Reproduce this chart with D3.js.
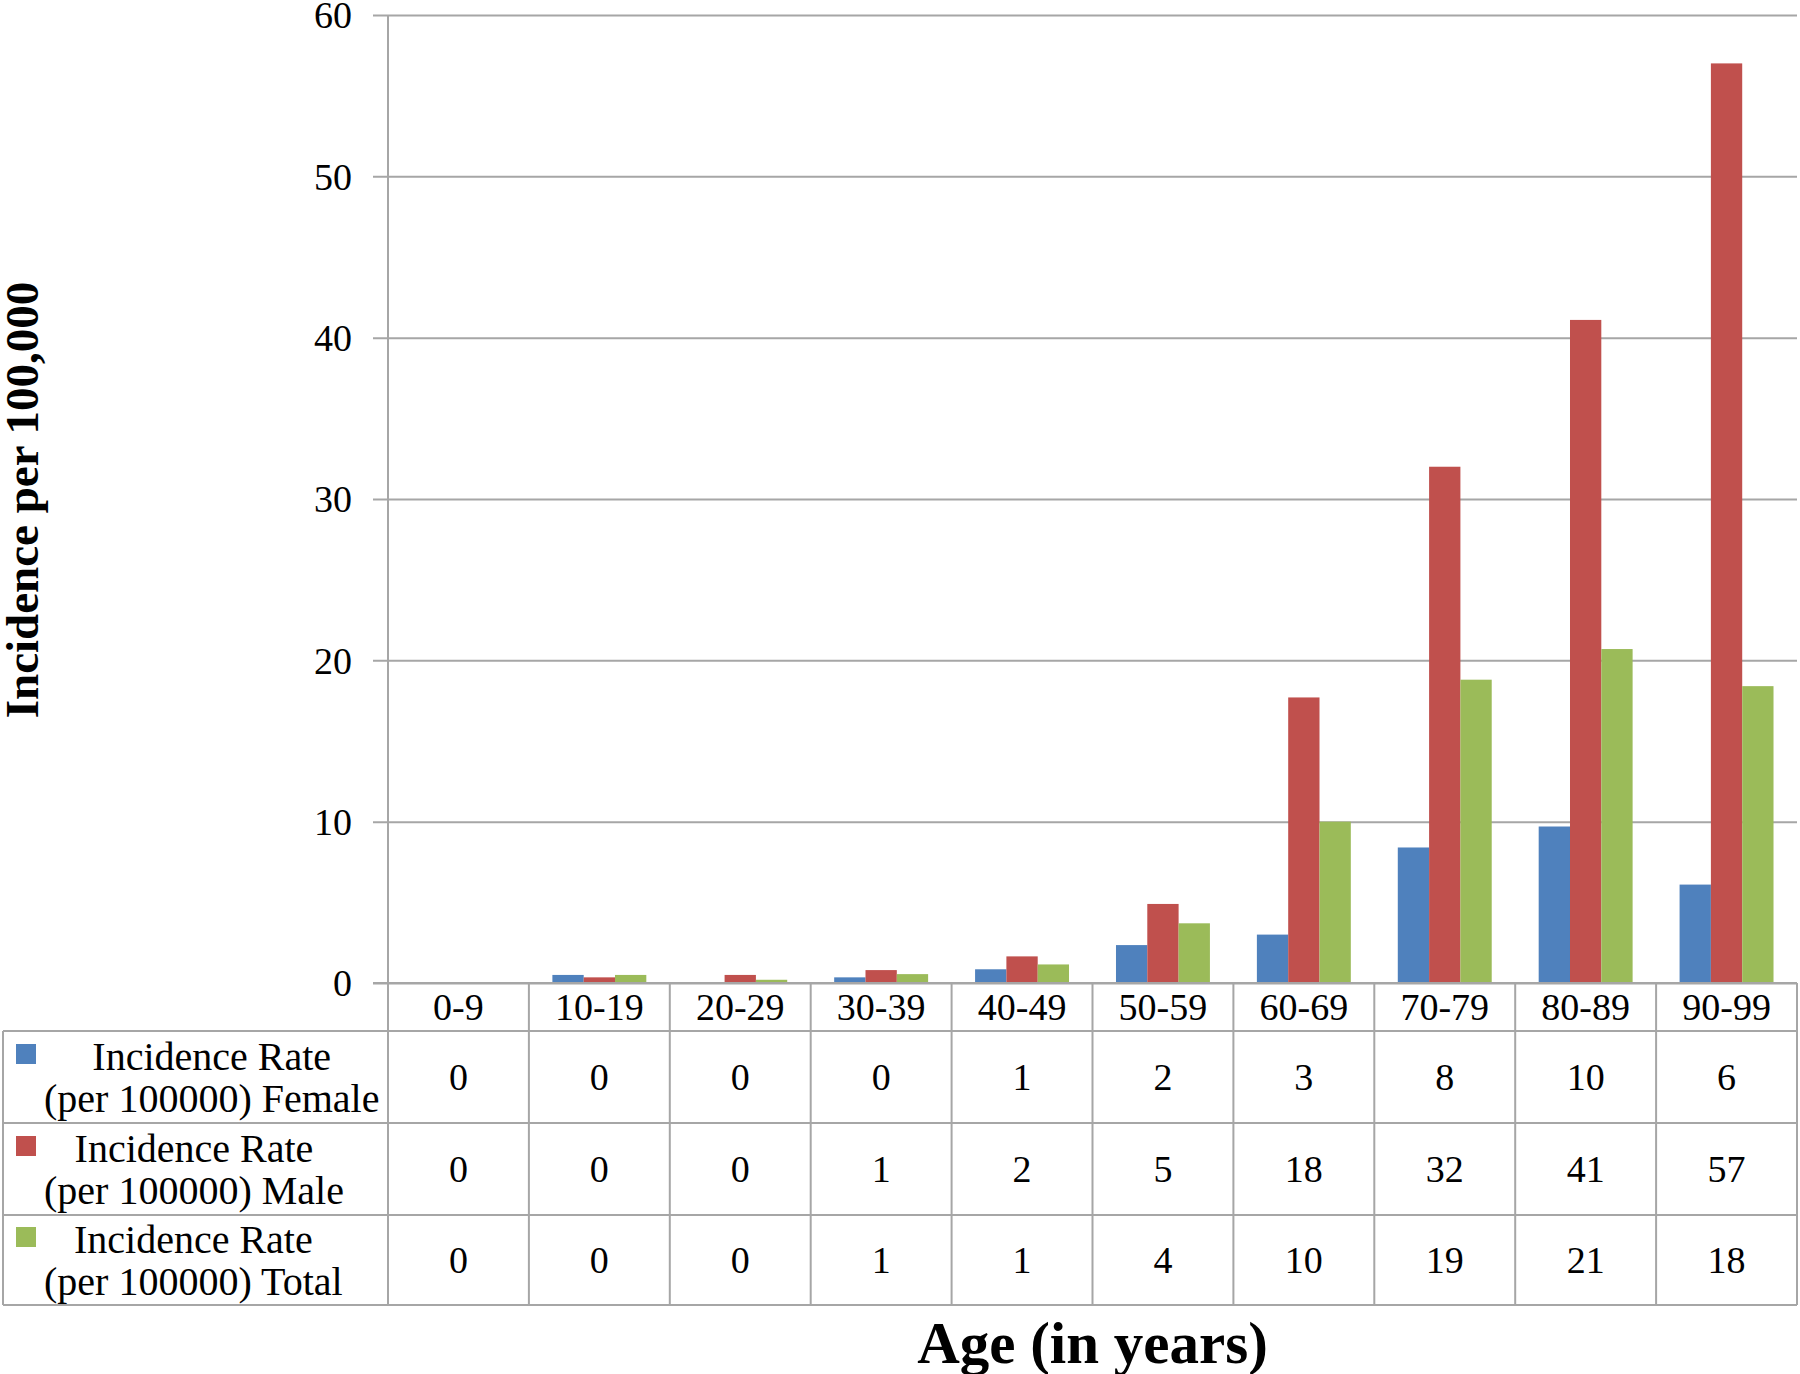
<!DOCTYPE html>
<html>
<head>
<meta charset="utf-8">
<script src="https://cdn.jsdelivr.net/npm/d3@7/dist/d3.min.js"></script>
<style>
  html, body { margin: 0; padding: 0; background: #fff; }
  svg { display: block; }
  text { font-family: "Liberation Serif", "Times New Roman", serif; fill: #000; }
</style>
</head>
<body>
<svg id="chart" width="1800" height="1374"></svg>
<script>
// ---- Data ----
const categories = ["0-9", "10-19", "20-29", "30-39", "40-49", "50-59", "60-69", "70-79", "80-89", "90-99"];
const seriesNames = ["Female", "Male", "Total"];
const seriesLabels = [
  ["Incidence Rate", "(per 100000) Female"],
  ["Incidence Rate", "(per 100000) Male"],
  ["Incidence Rate", "(per 100000) Total"]
];
const femaleValues = [0, 0.5, 0, 0.35, 0.85, 2.35, 3.0, 8.4, 9.7, 6.1];
const maleValues   = [0, 0.35, 0.5, 0.8, 1.65, 4.9, 17.7, 32.0, 41.1, 57.0];
const totalValues  = [0, 0.5, 0.2, 0.55, 1.15, 3.7, 10.0, 18.8, 20.7, 18.4];
const femaleTable = ["0", "0", "0", "0", "1", "2", "3", "8", "10", "6"];
const maleTable   = ["0", "0", "0", "1", "2", "5", "18", "32", "41", "57"];
const totalTable  = ["0", "0", "0", "1", "1", "4", "10", "19", "21", "18"];
const yTicks = [0, 10, 20, 30, 40, 50, 60];
const colors = ["#4F81BD", "#C0504D", "#9BBB59"];
const yTitle = "Incidence per 100,000";
const xTitle = "Age (in years)";

const seriesValues = [femaleValues, maleValues, totalValues];
const tableValues = [femaleTable, maleTable, totalTable];

// ---- Layout ----
const plotLeft = 388, plotRight = 1797, plotTop = 15, plotBottom = 983;
const tickLeft = 373;
const headerBottom = 1031;
const rowBounds = [1031, 1123, 1215, 1305];
const tableLeft = 3;
const gridColor = "#a6a6a6";
const fontSize = 38;
const legendFontSize = 40;

const svg = d3.select("#chart");

const x0 = d3.scaleBand().domain(categories).range([plotLeft, plotRight]).padding(0);
const x1 = d3.scaleBand().domain(seriesNames).range([0, x0.bandwidth()]).paddingInner(0).paddingOuter(0.75);
const y = d3.scaleLinear().domain([0, 60]).range([plotBottom, plotTop]);

// Y axis with gridlines
const yAxis = d3.axisLeft(y).tickValues(yTicks).tickSize(-(plotRight - tickLeft)).tickPadding(21);
const yg = svg.append("g").attr("transform", `translate(${tickLeft},0)`).call(yAxis);
yg.select(".domain").remove();
yg.selectAll(".tick line").attr("stroke", gridColor).attr("stroke-width", 2);
yg.selectAll(".tick text").attr("font-size", fontSize).attr("font-family", "Liberation Serif").attr("fill", "#000").attr("dy", "0.34em");

// Bars
seriesNames.forEach((s, si) => {
  svg.append("g").selectAll("rect")
    .data(categories.map((c, i) => ({ c, v: seriesValues[si][i] })))
    .join("rect")
    .attr("x", d => x0(d.c) + x1(s))
    .attr("y", d => y(d.v))
    .attr("width", x1.bandwidth())
    .attr("height", d => y(0) - y(d.v))
    .attr("fill", colors[si]);
});

// Re-draw zero line on top of bars
svg.append("line").attr("x1", tickLeft).attr("x2", plotRight).attr("y1", y(0)).attr("y2", y(0))
  .attr("stroke", gridColor).attr("stroke-width", 2);

// Vertical axis line (extends through table)
svg.append("line").attr("x1", plotLeft).attr("x2", plotLeft).attr("y1", plotTop).attr("y2", rowBounds[3])
  .attr("stroke", gridColor).attr("stroke-width", 2);

// Category header via axis
const xAxis = d3.axisBottom(x0).tickSize(0).tickPadding(0);
const xg = svg.append("g").attr("transform", `translate(0,${plotBottom})`).call(xAxis);
xg.select(".domain").remove();
xg.selectAll(".tick text").attr("font-size", fontSize).attr("font-family", "Liberation Serif")
  .attr("fill", "#000").attr("y", (headerBottom - plotBottom) / 2).attr("dy", "0.35em");

// Table: vertical lines at category boundaries
const bounds = categories.map(c => x0(c)).concat([plotRight]);
svg.append("g").selectAll("line").data(bounds.slice(1)).join("line")
  .attr("x1", d => d).attr("x2", d => d).attr("y1", plotBottom).attr("y2", rowBounds[3])
  .attr("stroke", gridColor).attr("stroke-width", 2);
// Left border of legend rows
svg.append("line").attr("x1", tableLeft).attr("x2", tableLeft).attr("y1", rowBounds[0]).attr("y2", rowBounds[3])
  .attr("stroke", gridColor).attr("stroke-width", 2);
// Horizontal row lines
svg.append("g").selectAll("line").data(rowBounds).join("line")
  .attr("x1", tableLeft).attr("x2", plotRight).attr("y1", d => d).attr("y2", d => d)
  .attr("stroke", gridColor).attr("stroke-width", 2);

// Table rows
seriesNames.forEach((s, si) => {
  const top = rowBounds[si], bot = rowBounds[si + 1];
  const mid = (top + bot) / 2;
  const g = svg.append("g");
  const line1Y = mid - 21, line2Y = mid + 21;
  g.append("rect").attr("x", 16).attr("y", line1Y - 12).attr("width", 20).attr("height", 20).attr("fill", colors[si]);
  const texts = seriesLabels[si].map((t, li) => g.append("text")
    .attr("font-size", legendFontSize).attr("y", li === 0 ? line1Y : line2Y).attr("dy", "0.35em")
    .attr("text-anchor", "middle").text(t));
  const maxW = d3.max(texts, t => t.node().getComputedTextLength());
  texts.forEach(t => t.attr("x", 44 + maxW / 2));
  g.selectAll("text.val").data(categories.map((c, i) => ({ c, t: tableValues[si][i] }))).join("text")
    .attr("class", "val").attr("font-size", fontSize)
    .attr("x", d => x0(d.c) + x0.bandwidth() / 2).attr("y", mid).attr("dy", "0.35em")
    .attr("text-anchor", "middle").text(d => d.t);
});

// Axis titles
svg.append("text").attr("transform", `translate(22,500) rotate(-90)`)
  .attr("text-anchor", "middle").attr("dy", "0.35em").attr("font-size", 47).attr("font-weight", "bold").text(yTitle);
svg.append("text").attr("x", (plotLeft + plotRight) / 2).attr("y", 1342)
  .attr("text-anchor", "middle").attr("dy", "0.35em").attr("font-size", 59).attr("font-weight", "bold").text(xTitle);
</script>
</body>
</html>
